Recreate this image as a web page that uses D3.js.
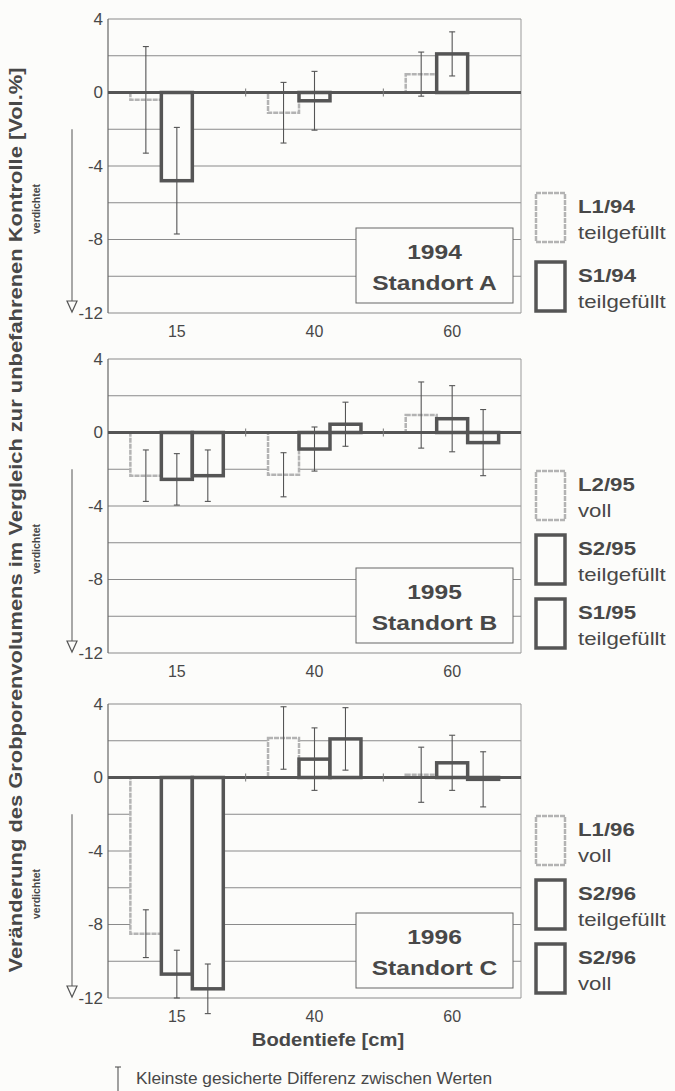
<!DOCTYPE html>
<html>
<head>
  <meta charset="utf-8">
  <script src="https://d3js.org/d3.v7.min.js"></script>
  <style>
    body { margin: 0; background: #fcfcfa; }
    svg { display: block; font-family: "Liberation Sans", Arial, sans-serif; }
  </style>
</head>
<body>
  <div id="chart"></div>
  <script>
    // categories and axis ticks
    var categories = ["15", "40", "60"];
    var yTicks = [4, 0, -4, -8, -12];
    var gridValues = [4, 2, -2, -4, -6, -8, -10, -12];

    var years = ["1994", "1995", "1996"];
    var sites = ["Standort A", "Standort B", "Standort C"];

    // 1994
    var series94 = ["L1/94", "S1/94"];
    var filling94 = ["teilgefüllt", "teilgefüllt"];
    var values94 = [[-0.4, -1.1, 1.0], [-4.8, -0.45, 2.1]];
    var errors94 = [[2.9, 1.65, 1.2], [2.9, 1.6, 1.2]];

    // 1995
    var series95 = ["L2/95", "S2/95", "S1/95"];
    var filling95 = ["voll", "teilgefüllt", "teilgefüllt"];
    var values95 = [[-2.35, -2.3, 0.95], [-2.55, -0.9, 0.75], [-2.35, 0.45, -0.55]];
    var errors95 = [[1.4, 1.2, 1.8], [1.4, 1.2, 1.8], [1.4, 1.2, 1.8]];

    // 1996
    var series96 = ["L1/96", "S2/96", "S2/96"];
    var filling96 = ["voll", "teilgefüllt", "voll"];
    var values96 = [[-8.5, 2.15, 0.15], [-10.7, 1.0, 0.8], [-11.5, 2.1, -0.1]];
    var errors96 = [[1.3, 1.7, 1.5], [1.3, 1.7, 1.5], [1.35, 1.7, 1.5]];

    var panels = [
      { series: series94, filling: filling94, values: values94, errors: errors94 },
      { series: series95, filling: filling95, values: values95, errors: errors95 },
      { series: series96, filling: filling96, values: values96, errors: errors96 }
    ];

    var width = 675, height = 1091;
    var bg = "#fcfcfa";
    var ink = "#484848";
    var left = 108, right = 521, plotH = 294;
    var tops = [19, 359, 704];

    var svg = d3.select("#chart").append("svg")
      .attr("width", width)
      .attr("height", height);

    // scanned original is a bit wider than the font
    function stretch(sel, k) {
      sel.each(function() {
        var len = this.getComputedTextLength();
        d3.select(this).attr("textLength", len * k).attr("lengthAdjust", "spacingAndGlyphs");
      });
    }

    var x0 = d3.scaleBand().domain(categories).range([left, right])
      .paddingInner(0.325).paddingOuter(0.1625);
    var x1 = d3.scaleBand().domain([0, 1, 2]).range([0, x0.bandwidth()]);

    function isLight(name) { return name.charAt(0) == "L"; }

    panels.forEach(function(p, k) {
      var top = tops[k];
      var y = d3.scaleLinear().domain([-12, 4]).range([top + plotH, top]);
      var g = svg.append("g");

      // grid
      g.selectAll(".grid").data(gridValues).enter().append("line")
        .attr("x1", left).attr("x2", right)
        .attr("y1", function(d) { return y(d); })
        .attr("y2", function(d) { return y(d); })
        .attr("stroke", "#8a8a8a").attr("stroke-width", 1.2);
      g.append("line")
        .attr("x1", right).attr("x2", right).attr("y1", y(4)).attr("y2", y(-12))
        .attr("stroke", "#9a9a9a").attr("stroke-width", 1);
      g.append("line")
        .attr("x1", left).attr("x2", left).attr("y1", y(4)).attr("y2", y(-12))
        .attr("stroke", "#666").attr("stroke-width", 1.2);

      // bars
      var bars = [];
      p.series.forEach(function(s, i) {
        categories.forEach(function(c, j) {
          bars.push({ s: s, i: i, c: c, v: p.values[i][j], e: p.errors[i][j] });
        });
      });
      g.selectAll(".bar").data(bars).enter().append("rect")
        .attr("x", function(d) { return x0(d.c) + x1(d.i); })
        .attr("width", x1.bandwidth())
        .attr("y", function(d) { return y(Math.max(d.v, 0)); })
        .attr("height", function(d) { return Math.abs(y(d.v) - y(0)); })
        .attr("fill", bg)
        .attr("stroke", function(d) { return isLight(d.s) ? "#b3b3b3" : "#555"; })
        .attr("stroke-width", function(d) { return isLight(d.s) ? 2.5 : 3.5; })
        .attr("stroke-dasharray", function(d) { return isLight(d.s) ? "5,1" : null; });

      // zero line + category ticks
      g.append("line")
        .attr("x1", left).attr("x2", right).attr("y1", y(0)).attr("y2", y(0))
        .attr("stroke", "#555").attr("stroke-width", 3);
      g.selectAll(".ctick").data(categories.slice(1)).enter().append("line")
        .attr("x1", function(d) { return x0(d) - x0.step() * 0.1625; })
        .attr("x2", function(d) { return x0(d) - x0.step() * 0.1625; })
        .attr("y1", y(0) - 4).attr("y2", y(0) + 4)
        .attr("stroke", "#777").attr("stroke-width", 1);

      // error bars
      var eb = g.selectAll(".err").data(bars).enter().append("g")
        .attr("stroke", "#555").attr("stroke-width", 1.1);
      var cx = function(d) { return x0(d.c) + x1(d.i) + x1.bandwidth() / 2; };
      eb.append("line")
        .attr("x1", cx).attr("x2", cx)
        .attr("y1", function(d) { return y(d.v + d.e); })
        .attr("y2", function(d) { return y(d.v - d.e); });
      eb.append("line")
        .attr("x1", function(d) { return cx(d) - 3; }).attr("x2", function(d) { return cx(d) + 3; })
        .attr("y1", function(d) { return y(d.v + d.e); })
        .attr("y2", function(d) { return y(d.v + d.e); });
      eb.append("line")
        .attr("x1", function(d) { return cx(d) - 3; }).attr("x2", function(d) { return cx(d) + 3; })
        .attr("y1", function(d) { return y(d.v - d.e); })
        .attr("y2", function(d) { return y(d.v - d.e); });

      // y axis
      var ax = g.append("g").attr("transform", "translate(" + left + ",0)")
        .call(d3.axisLeft(y).tickValues(yTicks).tickSize(0).tickPadding(5)
          .tickFormat(function(d) { return String(d); }));
      ax.select(".domain").remove();
      ax.selectAll("text").style("font-size", "17px").attr("fill", ink)
        .style("font-family", "Liberation Sans, Arial, sans-serif");

      // category labels
      g.selectAll(".clab").data(categories).enter().append("text")
        .attr("x", function(d) { return x0(d) + x0.bandwidth() / 2; })
        .attr("y", y(-12) + 18).attr("dy", "0.35em")
        .attr("text-anchor", "middle").style("font-size", "16px").attr("fill", ink)
        .text(function(d) { return d; });

      // year / site box
      g.append("rect")
        .attr("x", 356).attr("y", top + 209).attr("width", 157).attr("height", 75)
        .attr("fill", bg).attr("stroke", "#666").attr("stroke-width", 1);
      var bt = g.append("g").attr("font-weight", "bold").style("font-size", "21px")
        .attr("fill", ink).attr("text-anchor", "middle");
      bt.append("text").attr("x", 434.5).attr("y", top + 233).attr("dy", "0.35em").text(years[k]);
      bt.append("text").attr("x", 434.5).attr("y", top + 264).attr("dy", "0.35em").text(sites[k]);
      stretch(bt.selectAll("text"), 1.17);

      // compression arrow
      g.append("line")
        .attr("x1", 72).attr("x2", 72).attr("y1", y(-2)).attr("y2", y(-12) - 12)
        .attr("stroke", "#555").attr("stroke-width", 1);
      g.append("path")
        .attr("d", "M67," + (y(-12) - 12) + "L77," + (y(-12) - 12) + "L72," + (y(-12) - 1) + "Z")
        .attr("fill", "none").attr("stroke", "#555").attr("stroke-width", 1.2);
      g.append("text")
        .attr("transform", "translate(40," + (top + 190) + ") rotate(-90)")
        .attr("text-anchor", "middle").style("font-size", "11px").attr("font-weight", "bold")
        .attr("fill", ink).attr("textLength", 50).attr("lengthAdjust", "spacingAndGlyphs")
        .text("verdichtet");

      // legend
      var n = p.series.length;
      var start = n == 2 ? top + 174 : top + 112;
      var step = n == 2 ? 69 : 64;
      p.series.forEach(function(s, i) {
        var sy = start + i * step;
        g.append("rect")
          .attr("x", 536).attr("y", sy).attr("width", 29).attr("height", 49)
          .attr("fill", bg)
          .attr("stroke", isLight(s) ? "#b3b3b3" : "#555")
          .attr("stroke-width", isLight(s) ? 2.5 : 3.5)
          .attr("stroke-dasharray", isLight(s) ? "5,1" : null);
        var t1 = g.append("text").attr("x", 578).attr("y", sy + 13).attr("dy", "0.35em")
          .style("font-size", "19px").attr("font-weight", "bold").attr("fill", ink).text(s);
        var t2 = g.append("text").attr("x", 578).attr("y", sy + 39).attr("dy", "0.35em")
          .style("font-size", "19px").attr("fill", ink).text(p.filling[i]);
        stretch(t1, 1.17);
        stretch(t2, 1.17);
      });
    });

    // axis titles
    svg.append("text")
      .attr("transform", "translate(22,520) rotate(-90)")
      .attr("text-anchor", "middle").style("font-size", "19px").attr("font-weight", "bold")
      .attr("fill", ink)
      .attr("textLength", 905).attr("lengthAdjust", "spacingAndGlyphs")
      .text("Veränderung des Grobporenvolumens im Vergleich zur unbefahrenen Kontrolle [Vol.%]");

    var xt = svg.append("text")
      .attr("x", 328).attr("y", 1040).attr("dy", "0.35em")
      .attr("text-anchor", "middle").style("font-size", "18px").attr("font-weight", "bold")
      .attr("fill", ink).text("Bodentiefe [cm]");
    stretch(xt, 1.12);

    // footnote
    svg.append("line").attr("x1", 118).attr("x2", 118).attr("y1", 1067).attr("y2", 1091)
      .attr("stroke", "#555").attr("stroke-width", 1.1);
    svg.append("line").attr("x1", 115).attr("x2", 121).attr("y1", 1067).attr("y2", 1067)
      .attr("stroke", "#555").attr("stroke-width", 1.1);
    svg.append("text")
      .attr("x", 136).attr("y", 1078).attr("dy", "0.35em")
      .style("font-size", "16px").attr("fill", ink)
      .attr("textLength", 356).attr("lengthAdjust", "spacingAndGlyphs")
      .text("Kleinste gesicherte Differenz zwischen Werten");
  </script>
</body>
</html>
